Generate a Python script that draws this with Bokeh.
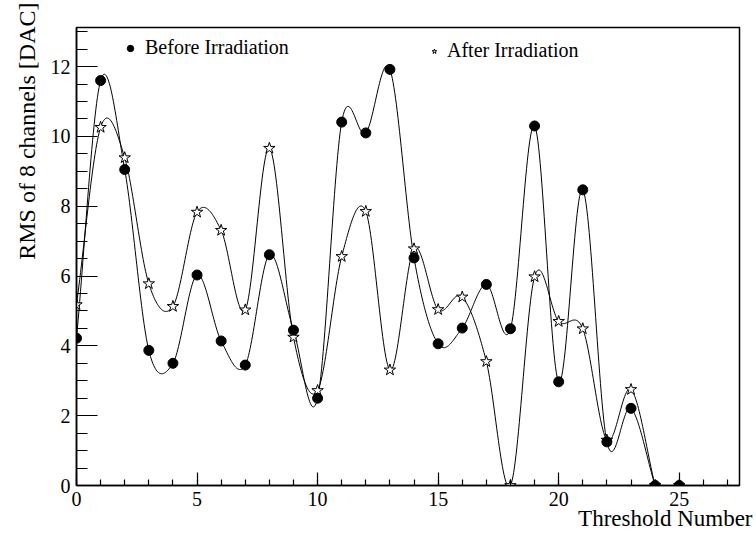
import numpy as np
from bokeh.plotting import figure
from bokeh.models import (Range1d, SingleIntervalTicker, Legend, LegendItem,
                          ColumnDataSource, Title)
from bokeh.embed import file_html
from bokeh.resources import INLINE

# ---- data ----
threshold = list(range(26))
before = [4.22, 11.6, 9.05, 3.87, 3.50, 6.03, 4.14, 3.45, 6.61, 4.45,
          2.50, 10.41, 10.10, 11.92, 6.52, 4.06, 4.51, 5.76, 4.49, 10.30,
          2.97, 8.47, 1.25, 2.21, 0.0, 0.0]
after = [5.18, 10.26, 9.39, 5.78, 5.13, 7.83, 7.31, 5.03, 9.66, 4.25,
         2.72, 6.56, 7.85, 3.31, 6.78, 5.04, 5.40, 3.55, 0.0, 5.98,
         4.70, 4.49, 1.30, 2.75, 0.0, 0.0]
x_ticks_interval = 5
y_ticks_interval = 2
x_title = "Threshold Number"
y_title = "RMS of 8 channels [DAC]"
legend_before = "Before Irradiation"
legend_after = "After Irradiation"

FONT = "Liberation Serif"


def smooth_curve(xs, ys, n=30):
    """Catmull-Rom style smooth curve through the points (like ROOT's 'C' option)."""
    xs = np.asarray(xs, float)
    ys = np.asarray(ys, float)
    m = np.zeros_like(ys)
    m[1:-1] = (ys[2:] - ys[:-2]) / 2.0
    m[0] = ys[1] - ys[0]
    m[-1] = ys[-1] - ys[-2]
    ox, oy = [], []
    for i in range(len(xs) - 1):
        t = np.linspace(0, 1, n, endpoint=(i == len(xs) - 2))
        h00 = 2 * t**3 - 3 * t**2 + 1
        h10 = t**3 - 2 * t**2 + t
        h01 = -2 * t**3 + 3 * t**2
        h11 = t**3 - t**2
        oy.extend(h00 * ys[i] + h10 * m[i] + h01 * ys[i + 1] + h11 * m[i + 1])
        ox.extend(xs[i] + t * (xs[i + 1] - xs[i]))
    return ox, oy


p = figure(width=756, height=533, x_range=Range1d(0, 27.5), y_range=Range1d(0, 13.12),
           output_backend="svg", toolbar_location=None,
           min_border_left=76, min_border_right=17, min_border_top=27, min_border_bottom=48)
p.background_fill_color = "white"
p.border_fill_color = "white"
p.outline_line_color = "black"
p.outline_line_width = 1.5
p.xgrid.visible = False
p.ygrid.visible = False

p.xaxis.ticker = SingleIntervalTicker(interval=x_ticks_interval, num_minor_ticks=5)
p.yaxis.ticker = SingleIntervalTicker(interval=y_ticks_interval, num_minor_ticks=4)
for ax in (p.xaxis, p.yaxis):
    ax.axis_line_color = "black"
    ax.axis_line_width = 1.5
    ax.major_tick_out = 0
    ax.minor_tick_out = 0
    ax.major_tick_line_color = "black"
    ax.minor_tick_line_color = "black"
    ax.major_tick_line_width = 1.2
    ax.minor_tick_line_width = 1.2
    ax.major_label_text_font = FONT
    ax.major_label_text_font_size = "20px"
    ax.major_label_text_color = "black"
p.xaxis.major_tick_in = 13
p.xaxis.minor_tick_in = 6
p.yaxis.major_tick_in = 21
p.yaxis.minor_tick_in = 11
p.xaxis.major_label_standoff = 6
p.yaxis.major_label_standoff = 6

p.add_layout(Title(text=x_title, align="right", offset=-13, standoff=-10,
                   text_font=FONT, text_font_size="23px", text_font_style="normal",
                   text_color="black"), "below")
p.add_layout(Title(text=y_title, align="right", offset=-25, standoff=16,
                   text_font=FONT, text_font_size="24px", text_font_style="normal",
                   text_color="black"), "left")

bx, by = smooth_curve(threshold[:25], before[:25])
ax_, ay_ = smooth_curve(threshold[:25], after[:25])
p.line(bx, by, line_color="black", line_width=1)
p.line(ax_, ay_, line_color="black", line_width=1)

src_a = ColumnDataSource(dict(x=threshold, y=after))
src_b = ColumnDataSource(dict(x=threshold, y=before))
r_a = p.scatter("x", "y", source=src_a, marker="star", size=12, fill_color="white",
                line_color="black", line_width=1)
r_b = p.scatter("x", "y", source=src_b, marker="circle", size=10, fill_color="black",
                line_color="black")


def make_legend(label, rend, loc, gw):
    lg = Legend(items=[LegendItem(label=label, renderers=[rend])], location=loc,
                padding=0, margin=0, spacing=0, glyph_width=gw, glyph_height=20,
                label_standoff=7, label_text_font=FONT, label_text_font_size="20px",
                label_text_color="black", border_line_alpha=0, background_fill_alpha=0,
                label_height=20)
    p.add_layout(lg, "center")


make_legend(legend_before, r_b, (46, 426), 16)
make_legend(legend_after, r_a, (352, 423), 12)

open("out.html", "w").write(file_html(p, INLINE))
